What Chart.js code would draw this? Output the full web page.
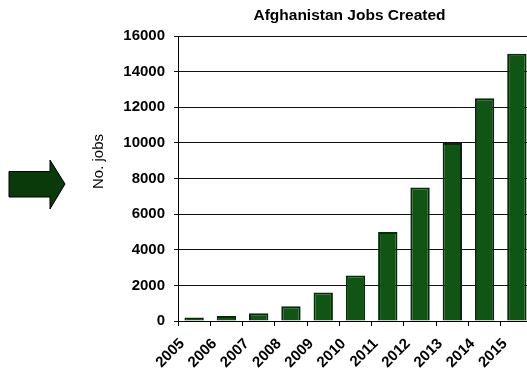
<!DOCTYPE html>
<html>
<head>
<meta charset="utf-8">
<script src="https://cdn.jsdelivr.net/npm/chart.js@4/dist/chart.umd.min.js"></script>
<style>
  html, body { margin: 0; padding: 0; background: #fff; overflow: hidden; width: 527px; height: 375px; }
  #wrap { position: absolute; left: 0; top: 0; width: 540px; height: 375px; }
  #arrow { position: absolute; left: 0; top: 0; }
</style>
</head>
<body>
<svg id="arrow" width="80" height="375">
  <polygon points="9,171.5 50,171.5 50,160 65,184 50,209 50,197 9,197"
           fill="#0a3a0a" stroke="#000" stroke-width="1"/>
</svg>
<div id="wrap"><canvas id="chart"></canvas></div>
<script>
// Jobs created per year
const years = ['2005', '2006', '2007', '2008', '2009', '2010', '2011', '2012', '2013', '2014', '2015'];
const jobs = [190, 280, 440, 830, 1600, 2550, 5000, 7500, 10000, 12500, 15000];
const yTicks = [0, 2000, 4000, 6000, 8000, 10000, 12000, 14000, 16000];

const chartTitle = 'Afghanistan Jobs Created';
const yTitle = 'No. jobs';
const FONT = "'Liberation Sans', Arial, Helvetica, sans-serif";

// Heading and vertical axis caption
const captions = {
  id: 'captions',
  afterDraw(chart) {
    const ctx = chart.ctx;
    const a = chart.chartArea;
    ctx.save();
    ctx.fillStyle = '#000';
    ctx.font = 'bold 15.5px ' + FONT;
    ctx.textAlign = 'center';
    ctx.textBaseline = 'alphabetic';
    ctx.fillText(chartTitle, (a.left + a.right) / 2 - 6, 20);
    ctx.font = '15px ' + FONT;
    ctx.translate(98.5, 161.5);
    ctx.rotate(-Math.PI / 2);
    ctx.textBaseline = 'middle';
    ctx.fillText(yTitle, 0, 0);
    ctx.restore();
  }
};

new Chart(document.getElementById('chart'), {
  type: 'bar',
  data: {
    labels: years,
    datasets: [{
      data: jobs,
      backgroundColor: '#0f5614',
      borderColor: '#062b06',
      borderWidth: 2,
      categoryPercentage: 1,
      barPercentage: 0.6
    }]
  },
  options: {
    responsive: true,
    maintainAspectRatio: false,
    animation: false,
    layout: { padding: { left: 86, right: 7, top: 36, bottom: 0 } },
    plugins: { legend: { display: false }, title: { display: false }, tooltip: { enabled: false } },
    scales: {
      x: {
        afterFit(s) { s.height = 54; },
        grid: { display: true, drawOnChartArea: false, drawTicks: true, tickLength: 5, color: '#000', offset: true },
        border: { display: true, color: '#000', width: 1 },
        ticks: {
          color: '#000',
          font: { family: FONT, size: 15, weight: 'bold' },
          minRotation: 45, maxRotation: 45,
          padding: 9,
          labelOffset: -12,
          autoSkip: false
        }
      },
      y: {
        min: 0, max: 16000,
        afterFit(s) { s.width = 92; },
        afterBuildTicks(s) { s.ticks = yTicks.map(v => ({ value: v })); },
        grid: { color: '#111', lineWidth: 1, drawTicks: true, tickLength: 4 },
        border: { display: true, color: '#000', width: 1 },
        ticks: {
          color: '#000',
          padding: 9,
          font: { family: FONT, size: 15, weight: 'bold' },
          callback: v => String(v)
        }
      }
    }
  },
  plugins: [captions]
});
</script>
</body>
</html>
